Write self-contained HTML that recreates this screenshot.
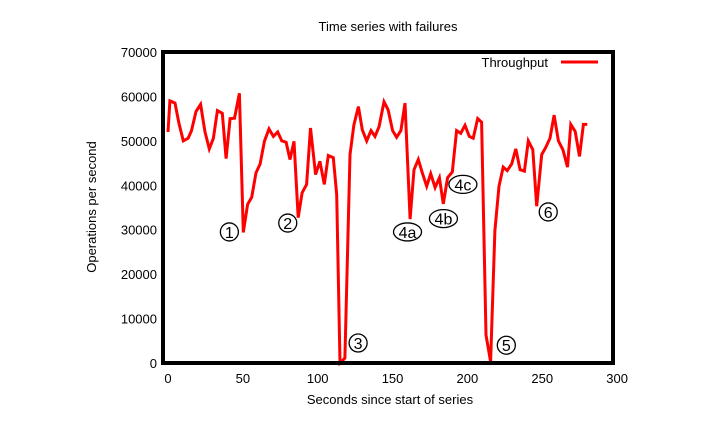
<!DOCTYPE html>
<html><head><meta charset="utf-8"><style>
body{margin:0;background:#fff;width:718px;height:437px;overflow:hidden}
text{font-family:"Liberation Sans",sans-serif;fill:#000}
</style></head><body>
<svg width="718" height="437" viewBox="0 0 718 437">
<text x="388" y="31" font-size="13" text-anchor="middle">Time series with failures</text>
<g id="yt"></g><g id="xt"></g>
<text x="390" y="404" font-size="13" text-anchor="middle">Seconds since start of series</text>
<text transform="translate(96,207) rotate(-90)" font-size="13" text-anchor="middle">Operations per second</text>
<polyline id="line" fill="none" stroke="#ff0000" stroke-width="3" stroke-linejoin="miter"/>
<rect x="163" y="52" width="450" height="311" fill="none" stroke="#000" stroke-width="4"/>
<g>
<text x="548" y="67" font-size="13" text-anchor="end">Throughput</text>
<line x1="561" y1="62" x2="598" y2="62" stroke="#ff0000" stroke-width="3"/>
</g>
<g id="ann"></g>
</svg>
<script>
const times=[0,1.3,4.7,7.3,10.2,13.5,15.7,18.7,21.8,24.7,27.6,30.3,33,36.3,38.8,41.5,44.4,47.7,50.3,53.2,55.9,58.8,61.5,64.4,67.5,70.4,73.3,76,78.9,81.5,84.2,87,89.6,92.6,95.2,98.6,101.5,104.4,107.1,110.4,112.7,114.9,118.2,121.6,124.2,127.2,129.8,132.7,135.6,138.3,141,144.3,147,150,152.7,155.6,158.3,161.7,164.3,167.2,169.9,172.8,175.5,178.4,181.3,183.9,186.8,189.9,192.8,195.5,198.4,201.3,203.9,206.9,209.5,212.4,215.5,218.4,221.1,223.9,226.6,229.6,232.3,235.2,238.1,240.7,243.7,246.3,249.6,252.3,255.2,257.9,260.8,263.8,266.9,269.1,272,274.9,277.5,280.1];
const throughput=[52000,59000,58500,54000,50000,50600,52300,56600,58200,52000,48200,50600,56800,56200,46000,55000,55100,60700,29400,35700,37300,42800,44800,49900,52700,51000,52000,50000,49700,45800,49900,32700,38300,40200,52900,42400,45400,40200,46700,46200,37900,0,1100,46900,53600,57700,52500,50000,52300,51000,53200,58800,57000,52300,50800,52300,58500,32400,43500,45800,42800,39800,42600,39500,41700,35800,41700,43000,52300,51700,53500,51000,50600,55000,54200,6300,300,29800,39800,44100,43300,44800,48200,43500,43200,50000,48000,35300,46900,48500,50600,55800,50000,48000,44100,53700,52100,46500,53700,53700];
const yTicks=[0,10000,20000,30000,40000,50000,60000,70000];
const xTicks=[0,50,100,150,200,250,300];
const annLabels=["①","②","③","4a","4b","4c","⑤","⑥"];
const annT=[41,80,127,160,184,197,226,254];
const annV=[29500,31500,4500,29500,32500,40200,4000,34000];
const NS="http://www.w3.org/2000/svg";
const X=t=>168+1.497*t, Y=v=>363-v*311/70000;
const yt=document.getElementById('yt'), xt=document.getElementById('xt');
yTicks.forEach(v=>{const e=document.createElementNS(NS,'text');e.setAttribute('x',157);e.setAttribute('y',Y(v)+5);e.setAttribute('font-size','13');e.setAttribute('text-anchor','end');e.textContent=v;


yt.appendChild(e);});
xTicks.forEach(v=>{const e=document.createElementNS(NS,'text');e.setAttribute('x',X(v));e.setAttribute('y',383);e.setAttribute('font-size','13');e.setAttribute('text-anchor','middle');e.textContent=v;


xt.appendChild(e);});
document.getElementById('line').setAttribute('points',times.map((t,i)=>X(t).toFixed(1)+','+Y(throughput[i]).toFixed(1)).join(' '));
const ann=document.getElementById('ann');
annLabels.forEach((l,i)=>{const g=document.createElementNS(NS,'g');


const cx=X(annT[i]),cy=Y(annV[i]);const wide=l.length>1;
const el=document.createElementNS(NS,'ellipse');el.setAttribute('cx',cx);el.setAttribute('cy',cy);el.setAttribute('rx',wide?14:9);el.setAttribute('ry',9);el.setAttribute('fill','none');el.setAttribute('stroke','#000');el.setAttribute('stroke-width','1.3');
const tx=document.createElementNS(NS,'text');tx.setAttribute('x',cx);tx.setAttribute('y',cy+6);tx.setAttribute('font-size','16');tx.setAttribute('text-anchor','middle');tx.textContent=wide?l:String(["①","②","③","⑤","⑥"].indexOf(l)>=0?"1235 6".replace(' ','')["①②③⑤⑥".indexOf(l)]:l);
g.appendChild(el);g.appendChild(tx);ann.appendChild(g);});
</script>
</body></html>
